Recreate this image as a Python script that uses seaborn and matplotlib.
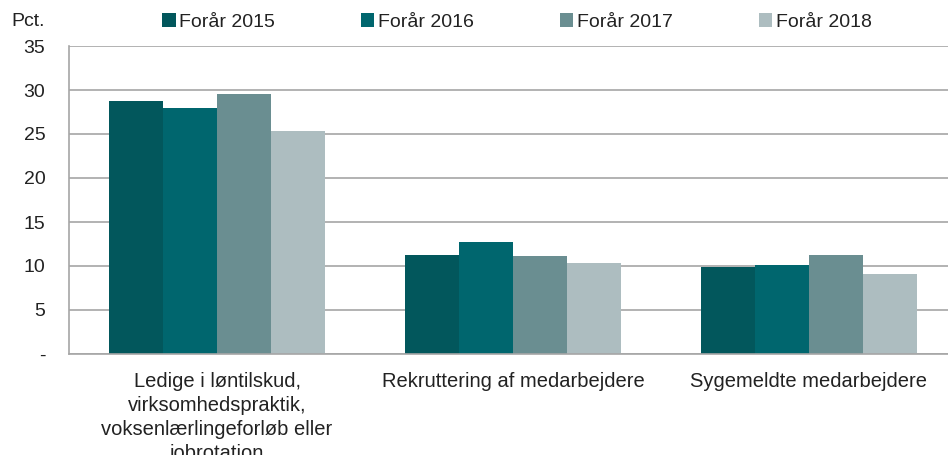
import matplotlib
matplotlib.use("Agg")
import matplotlib.pyplot as plt
import seaborn as sns
import pandas as pd
from matplotlib.patches import Patch
from matplotlib.ticker import FixedLocator

categories = ["Ledige i løntilskud,\nvirksomhedspraktik,\nvoksenlærlingeforløb eller\njobrotation",
              "Rekruttering af medarbejdere",
              "Sygemeldte medarbejdere"]
series = ["Forår 2015", "Forår 2016", "Forår 2017", "Forår 2018"]
v2015 = [28.8, 11.2, 9.9]
v2016 = [28.0, 12.7, 10.1]
v2017 = [29.6, 11.1, 11.2]
v2018 = [25.3, 10.3, 9.1]
colors = ["#02575C", "#00666E", "#6A8E91", "#ADBDC0"]
yticks = [0, 5, 10, 15, 20, 25, 30, 35]
ytick_labels = ["-", "5", "10", "15", "20", "25", "30", "35"]

rows = []
for s, vals in zip(series, [v2015, v2016, v2017, v2018]):
    for c, v in zip(categories, vals):
        rows.append({"cat": c, "series": s, "val": v})
df = pd.DataFrame(rows)

sns.set_style("white")
plt.rcParams['font.family'] = ['Liberation Sans', 'DejaVu Sans']

fig = plt.figure(figsize=(9.48, 4.55), dpi=100)
ax = fig.add_axes([69/948, 1-354/455, 888/948, (354-46)/455])

sns.barplot(data=df, x="cat", y="val", hue="series", order=categories,
            hue_order=series, palette=colors, width=0.73, ax=ax,
            legend=False, linewidth=0, saturation=1)

ax.set_xlim(-0.5, 2.5)
ax.set_ylim(0, 35)
ax.set_yticks(yticks)
ax.set_yticklabels(ytick_labels, fontsize=14, color="#222222")
ax.yaxis.grid(True, color="#A6A6A6", linewidth=1.2)
ax.set_axisbelow(True)
ax.set_xlabel("")
ax.set_ylabel("")
ax.tick_params(axis="y", length=0, pad=17)
ax.tick_params(axis="x", which="major", length=0, pad=13, labelsize=14.5, labelcolor="#222222")
ax.xaxis.set_minor_locator(FixedLocator([0.5, 1.5]))
ax.tick_params(axis="x", which="minor", length=6, color="#A6A6A6", width=1.2, direction="out")
for lbl in ax.get_xticklabels():
    lbl.set_linespacing(1.33)

for side in ["top", "right"]:
    ax.spines[side].set_visible(False)
ax.spines["left"].set_color("#A6A6A6")
ax.spines["left"].set_linewidth(1.2)
ax.spines["bottom"].set_color("#A6A6A6")
ax.spines["bottom"].set_linewidth(1.2)

fig.text(11/948, 1-22/455, "Pct.", fontsize=14, color="#222222", va="center", ha="left")

handles = [Patch(facecolor=c, edgecolor="none", label=s) for c, s in zip(colors, series)]
fig.legend(handles=handles, loc="center", bbox_to_anchor=(517/948, 1-22/455), ncol=4,
           frameon=False, fontsize=14, handlelength=0.7, handleheight=0.7,
           handletextpad=0.2, columnspacing=4.4, labelcolor="#222222")

fig.savefig("out.png", dpi=100)
